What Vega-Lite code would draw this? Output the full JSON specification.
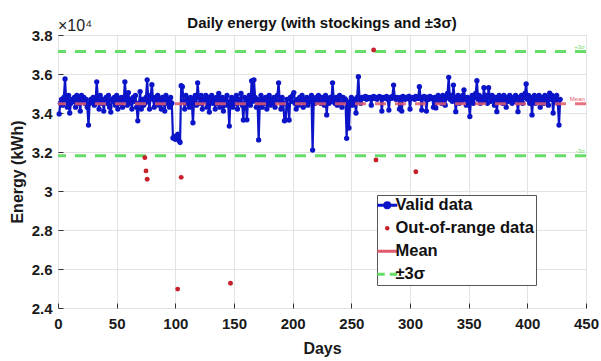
{
"$schema": "https://vega.github.io/schema/vega-lite/v6.json",
"width": 528, "height": 273,
"autosize": {"type": "none"},
"padding": {"left": 58, "top": 35, "right": 15, "bottom": 53},
"background": "white",
"title": {"text": "Daily energy (with stockings and ±3σ)", "font": "Liberation Sans", "fontSize": 15, "fontWeight": "bold", "color": "#111111", "offset": -13, "anchor": "middle"},
"config": {
 "view": {"stroke": "#a0a0a0", "strokeWidth": 1},
 "axis": {"labelFont": "Liberation Sans", "labelFontSize": 15, "labelFontWeight": "bold", "labelColor": "#1a1a1a", "titleFont": "Liberation Sans", "titleFontSize": 16, "titleFontWeight": "bold", "titleColor": "#1a1a1a", "gridColor": "#e3e3e3", "domain": false, "ticks": true, "tickSize": -5, "tickColor": "#333333", "labelOverlap": false}
},
"datasets": {
 "sig": [{"v": 37150}, {"v": 31810}],
 "mean": [{"v": 34480}],
 "labs": [{"t": "+3σ", "v": 37150, "s": "±3σ"}, {"t": "Mean", "v": 34480, "s": "Mean"}, {"t": "-3σ", "v": 31810, "s": "±3σ"}],
 "oor": [{"d":74,"e":31710},{"d":75,"e":31030},{"d":76,"e":30600},{"d":102,"e":24970},{"d":105,"e":30700},{"d":147,"e":25270},{"d":269,"e":37230},{"d":271,"e":31590},{"d":305,"e":30990}],
 "valid": [
{"d":1,"e":33950},{"d":2,"e":34500},{"d":3,"e":34700},{"d":4,"e":34400},{"d":5,"e":34800},{"d":6,"e":35750},{"d":7,"e":34600},{"d":8,"e":34300},{"d":9,"e":34900},{"d":10,"e":34000},
{"d":11,"e":34500},{"d":12,"e":34700},{"d":13,"e":34600},{"d":14,"e":34800},{"d":15,"e":34300},{"d":16,"e":34900},{"d":17,"e":34500},{"d":18,"e":34700},{"d":19,"e":34100},{"d":20,"e":34900},
{"d":21,"e":34600},{"d":22,"e":34800},{"d":23,"e":34500},{"d":24,"e":34700},{"d":25,"e":34300},{"d":26,"e":33380},{"d":27,"e":34500},{"d":28,"e":34700},{"d":29,"e":34600},{"d":30,"e":34800},
{"d":31,"e":34400},{"d":32,"e":34600},{"d":33,"e":35600},{"d":34,"e":34700},{"d":35,"e":34200},{"d":36,"e":34900},{"d":37,"e":34500},{"d":38,"e":34700},{"d":39,"e":34100},{"d":40,"e":34600},
{"d":41,"e":34800},{"d":42,"e":34500},{"d":43,"e":34900},{"d":44,"e":34300},{"d":45,"e":34050},{"d":46,"e":34700},{"d":47,"e":34600},{"d":48,"e":34800},{"d":49,"e":34400},{"d":50,"e":34900},
{"d":51,"e":34200},{"d":52,"e":34700},{"d":53,"e":34500},{"d":54,"e":34800},{"d":55,"e":34300},{"d":56,"e":34600},{"d":57,"e":35600},{"d":58,"e":34800},{"d":59,"e":34400},{"d":60,"e":35050},
{"d":61,"e":34500},{"d":62,"e":34700},{"d":63,"e":34200},{"d":64,"e":34800},{"d":65,"e":34600},{"d":66,"e":34900},{"d":67,"e":34300},{"d":68,"e":33600},{"d":69,"e":34500},{"d":70,"e":35100},
{"d":71,"e":34200},{"d":72,"e":34700},{"d":73,"e":34400},{"d":74,"e":34500},{"d":75,"e":34800},{"d":76,"e":35700},{"d":77,"e":34600},{"d":78,"e":34200},{"d":79,"e":34900},{"d":80,"e":35450},
{"d":81,"e":34700},{"d":82,"e":34300},{"d":83,"e":34800},{"d":84,"e":34500},{"d":85,"e":34900},{"d":86,"e":34400},{"d":87,"e":34700},{"d":88,"e":34200},{"d":89,"e":34800},{"d":90,"e":34600},
{"d":91,"e":34100},{"d":92,"e":34900},{"d":93,"e":34500},{"d":94,"e":34700},{"d":95,"e":34300},{"d":96,"e":34800},{"d":97,"e":34500},{"d":98,"e":32720},{"d":99,"e":32800},{"d":100,"e":32650},
{"d":101,"e":32750},{"d":102,"e":32900},{"d":103,"e":32600},{"d":104,"e":32500},{"d":105,"e":35400},{"d":106,"e":35350},{"d":107,"e":34600},{"d":108,"e":34200},{"d":109,"e":34900},{"d":110,"e":34500},
{"d":111,"e":34700},{"d":112,"e":34300},{"d":113,"e":34800},{"d":114,"e":34600},{"d":115,"e":33500},{"d":116,"e":34700},{"d":117,"e":34900},{"d":118,"e":34400},{"d":119,"e":35550},{"d":120,"e":34800},
{"d":121,"e":34500},{"d":122,"e":34900},{"d":123,"e":34200},{"d":124,"e":34700},{"d":125,"e":34600},{"d":126,"e":34900},{"d":127,"e":34300},{"d":128,"e":34800},{"d":129,"e":34050},{"d":130,"e":34600},
{"d":131,"e":34900},{"d":132,"e":34500},{"d":133,"e":34700},{"d":134,"e":34200},{"d":135,"e":34800},{"d":136,"e":34500},{"d":137,"e":35000},{"d":138,"e":34300},{"d":139,"e":34600},{"d":140,"e":34800},
{"d":141,"e":34100},{"d":142,"e":34700},{"d":143,"e":34400},{"d":144,"e":34900},{"d":145,"e":34500},{"d":146,"e":33330},{"d":147,"e":34600},{"d":148,"e":34800},{"d":149,"e":34300},{"d":150,"e":34700},
{"d":151,"e":34500},{"d":152,"e":34900},{"d":153,"e":34200},{"d":154,"e":34700},{"d":155,"e":34600},{"d":156,"e":35000},{"d":157,"e":34400},{"d":158,"e":33640},{"d":159,"e":34800},{"d":160,"e":34500},
{"d":161,"e":33650},{"d":162,"e":34700},{"d":163,"e":34900},{"d":164,"e":34400},{"d":165,"e":35650},{"d":166,"e":34600},{"d":167,"e":35700},{"d":168,"e":34800},{"d":169,"e":34300},{"d":170,"e":34700},
{"d":171,"e":32620},{"d":172,"e":34500},{"d":173,"e":34900},{"d":174,"e":34300},{"d":175,"e":34700},{"d":176,"e":34500},{"d":177,"e":34800},{"d":178,"e":34200},{"d":179,"e":34600},{"d":180,"e":34900},
{"d":181,"e":34400},{"d":182,"e":34700},{"d":183,"e":34500},{"d":184,"e":34800},{"d":185,"e":34300},{"d":186,"e":34700},{"d":187,"e":34900},{"d":188,"e":35550},{"d":189,"e":34600},{"d":190,"e":34200},
{"d":191,"e":34800},{"d":192,"e":34500},{"d":193,"e":33600},{"d":194,"e":33650},{"d":195,"e":34700},{"d":196,"e":34400},{"d":197,"e":33640},{"d":198,"e":34800},{"d":199,"e":34600},{"d":200,"e":34900},
{"d":201,"e":35050},{"d":202,"e":34500},{"d":203,"e":34200},{"d":204,"e":34700},{"d":205,"e":34400},{"d":206,"e":34800},{"d":207,"e":34600},{"d":208,"e":34900},{"d":209,"e":34300},{"d":210,"e":34700},
{"d":211,"e":34500},{"d":212,"e":34800},{"d":213,"e":34400},{"d":214,"e":34700},{"d":215,"e":34600},{"d":216,"e":34900},{"d":217,"e":32100},{"d":218,"e":34700},{"d":219,"e":34500},{"d":220,"e":34800},
{"d":221,"e":34600},{"d":222,"e":34900},{"d":223,"e":34700},{"d":224,"e":34500},{"d":225,"e":34800},{"d":226,"e":34600},{"d":227,"e":34400},{"d":228,"e":34900},{"d":229,"e":33900},{"d":230,"e":34700},
{"d":231,"e":34500},{"d":232,"e":34800},{"d":233,"e":34600},{"d":234,"e":35550},{"d":235,"e":34700},{"d":236,"e":34500},{"d":237,"e":34800},{"d":238,"e":34400},{"d":239,"e":34700},{"d":240,"e":34900},
{"d":241,"e":34500},{"d":242,"e":34300},{"d":243,"e":34800},{"d":244,"e":34600},{"d":245,"e":34700},{"d":246,"e":32700},{"d":247,"e":34500},{"d":248,"e":33230},{"d":249,"e":34600},{"d":250,"e":34800},
{"d":251,"e":34400},{"d":252,"e":34700},{"d":253,"e":34600},{"d":254,"e":34000},{"d":255,"e":34800},{"d":256,"e":35860},{"d":257,"e":34700},{"d":258,"e":34500},{"d":259,"e":34800},{"d":260,"e":34750},
{"d":261,"e":34800},{"d":262,"e":34850},{"d":263,"e":34700},{"d":264,"e":34800},{"d":265,"e":34750},{"d":266,"e":34800},{"d":267,"e":34400},{"d":268,"e":34800},{"d":269,"e":34850},{"d":270,"e":34750},
{"d":271,"e":34800},{"d":272,"e":34700},{"d":273,"e":34800},{"d":274,"e":34850},{"d":275,"e":34800},{"d":276,"e":34100},{"d":277,"e":34800},{"d":278,"e":34750},{"d":279,"e":34800},{"d":280,"e":34850},
{"d":281,"e":34700},{"d":282,"e":34150},{"d":283,"e":34800},{"d":284,"e":34750},{"d":285,"e":34850},{"d":286,"e":35430},{"d":287,"e":34800},{"d":288,"e":34700},{"d":289,"e":34800},{"d":290,"e":34750},
{"d":291,"e":34200},{"d":292,"e":34800},{"d":293,"e":34100},{"d":294,"e":34850},{"d":295,"e":34800},{"d":296,"e":34700},{"d":297,"e":34800},{"d":298,"e":34750},{"d":299,"e":34850},{"d":300,"e":34200},
{"d":301,"e":34800},{"d":302,"e":34750},{"d":303,"e":34800},{"d":304,"e":34700},{"d":305,"e":34850},{"d":306,"e":34800},{"d":307,"e":34750},{"d":308,"e":35350},{"d":309,"e":34800},{"d":310,"e":34150},
{"d":311,"e":34800},{"d":312,"e":34850},{"d":313,"e":34750},{"d":314,"e":34100},{"d":315,"e":34800},{"d":316,"e":34700},{"d":317,"e":34850},{"d":318,"e":34800},{"d":319,"e":34750},{"d":320,"e":34300},
{"d":321,"e":34800},{"d":322,"e":34260},{"d":323,"e":34700},{"d":324,"e":34900},{"d":325,"e":34600},{"d":326,"e":34800},{"d":327,"e":34500},{"d":328,"e":34900},{"d":329,"e":34700},{"d":330,"e":34400},
{"d":331,"e":34800},{"d":332,"e":35000},{"d":333,"e":35830},{"d":334,"e":34700},{"d":335,"e":34900},{"d":336,"e":34600},{"d":337,"e":35430},{"d":338,"e":34800},{"d":339,"e":34070},{"d":340,"e":34700},
{"d":341,"e":34900},{"d":342,"e":34500},{"d":343,"e":34800},{"d":344,"e":34600},{"d":345,"e":34900},{"d":346,"e":35180},{"d":347,"e":34700},{"d":348,"e":34400},{"d":349,"e":34800},{"d":350,"e":34600},
{"d":351,"e":33820},{"d":352,"e":34700},{"d":353,"e":34900},{"d":354,"e":34500},{"d":355,"e":34800},{"d":356,"e":35000},{"d":357,"e":35660},{"d":358,"e":34700},{"d":359,"e":34900},{"d":360,"e":34500},
{"d":361,"e":34800},{"d":362,"e":34600},{"d":363,"e":35300},{"d":364,"e":34700},{"d":365,"e":34900},{"d":366,"e":34500},{"d":367,"e":35300},{"d":368,"e":34800},{"d":369,"e":34600},{"d":370,"e":34900},
{"d":371,"e":34700},{"d":372,"e":34400},{"d":373,"e":34800},{"d":374,"e":34070},{"d":375,"e":34700},{"d":376,"e":34900},{"d":377,"e":34600},{"d":378,"e":34800},{"d":379,"e":34500},{"d":380,"e":34900},
{"d":381,"e":34700},{"d":382,"e":34300},{"d":383,"e":34800},{"d":384,"e":34600},{"d":385,"e":34900},{"d":386,"e":34700},{"d":387,"e":34500},{"d":388,"e":34800},{"d":389,"e":34600},{"d":390,"e":34900},
{"d":391,"e":34700},{"d":392,"e":34070},{"d":393,"e":34800},{"d":394,"e":34600},{"d":395,"e":34900},{"d":396,"e":34500},{"d":397,"e":34800},{"d":398,"e":35000},{"d":399,"e":35490},{"d":400,"e":34700},
{"d":401,"e":34900},{"d":402,"e":34500},{"d":403,"e":34800},{"d":404,"e":33900},{"d":405,"e":34700},{"d":406,"e":34900},{"d":407,"e":34500},{"d":408,"e":34800},{"d":409,"e":34600},{"d":410,"e":34900},
{"d":411,"e":34300},{"d":412,"e":34700},{"d":413,"e":34800},{"d":414,"e":34500},{"d":415,"e":34900},{"d":416,"e":34600},{"d":417,"e":34800},{"d":418,"e":34400},{"d":419,"e":35020},{"d":420,"e":34700},
{"d":421,"e":34900},{"d":422,"e":34000},{"d":423,"e":34800},{"d":424,"e":34600},{"d":425,"e":34900},{"d":426,"e":34500},{"d":427,"e":33380},{"d":428,"e":34700}
 ]
},
"layer": [
 {"data": {"name": "sig"},
  "mark": {"type": "rule", "strokeWidth": 3, "strokeDash": [11, 9]},
  "encoding": {
   "y": {"field": "v", "type": "quantitative", "scale": {"domain": [24000, 38000], "nice": false, "zero": false},
         "axis": {"title": "Energy (kWh)", "values": [24000, 26000, 28000, 30000, 32000, 34000, 36000, 38000], "tickCount": 10, "labelExpr": "format(datum.value/10000, '~g')", "labelOverlap": false, "labelBound": false, "labelPadding": 11, "titlePadding": 6, "grid": true}},
   "color": {"datum": "±3σ", "type": "nominal", "title": null,
     "scale": {"domain": ["Valid data", "Out-of-range data", "Mean", "±3σ"], "range": ["#0c14c8", "#c8202a", "#e05a6c", "#66dd66"]},
     "legend": {"title": null, "orient": "none", "legendX": 319, "legendY": 160,
       "labelFont": "Liberation Sans", "labelFontSize": 16.5, "labelFontWeight": "bold", "labelColor": "#111111", "labelLimit": 200,
       "fillColor": "white", "strokeColor": "#555555", "padding": 2, "rowPadding": 6, "symbolSize": 400, "labelOffset": 0, "symbolStrokeWidth": 3,
       "encode": {"symbols": {"update": {
         "shape": {"signal": "datum.value === 'Valid data' ? 'M-1,0H1M-0.25,0A0.25,0.25 0 1,0 0.25,0A0.25,0.25 0 1,0 -0.25,0Z' : datum.value === 'Out-of-range data' ? 'circle' : datum.value === 'Mean' ? 'stroke' : 'M-1,0H-0.25M0.25,0H1'"},
         "size": {"signal": "datum.value === 'Out-of-range data' ? 20 : 400"},
         "fill": {"signal": "datum.value === 'Valid data' ? '#0c14c8' : datum.value === 'Out-of-range data' ? '#c8202a' : 'transparent'"},
         "stroke": {"signal": "datum.value === 'Valid data' ? '#0c14c8' : datum.value === 'Mean' ? '#e58a8e' : datum.value === '±3σ' ? '#66dd66' : 'transparent'"},
         "strokeWidth": {"signal": "datum.value === 'Out-of-range data' ? 0 : 3"},
         "opacity": {"value": 1}
       }}}
     }}
  }},
 {"data": {"name": "valid"},
  "mark": {"type": "line", "strokeWidth": 2.2, "point": {"filled": true, "size": 28}},
  "encoding": {
   "x": {"field": "d", "type": "quantitative", "scale": {"domain": [0, 450], "nice": false, "zero": false},
         "axis": {"title": "Days", "values": [0, 50, 100, 150, 200, 250, 300, 350, 400, 450], "tickCount": 12, "labelPadding": 13, "titlePadding": 9, "grid": true, "labelFlush": false}},
   "y": {"field": "e", "type": "quantitative"},
   "color": {"datum": "Valid data", "type": "nominal", "title": null}
  }},
 {"data": {"name": "mean"},
  "mark": {"type": "rule", "strokeWidth": 3, "strokeDash": [11, 9], "opacity": 0.85},
  "encoding": {
   "y": {"field": "v", "type": "quantitative"},
   "color": {"datum": "Mean", "type": "nominal", "title": null}
  }},
 {"data": {"name": "oor"},
  "mark": {"type": "point", "filled": true, "size": 24, "opacity": 1},
  "encoding": {
   "x": {"field": "d", "type": "quantitative"},
   "y": {"field": "e", "type": "quantitative"},
   "color": {"datum": "Out-of-range data", "type": "nominal", "title": null}
  }},
 {"data": {"name": "labs"},
  "mark": {"type": "text", "align": "right", "baseline": "bottom", "dy": -2, "fontSize": 6, "font": "Liberation Sans"},
  "encoding": {
   "x": {"datum": 449, "type": "quantitative"},
   "y": {"field": "v", "type": "quantitative"},
   "text": {"field": "t"},
   "color": {"field": "s", "type": "nominal", "title": null}
  }},
 {"data": {"values": [{"t": "×10⁴"}]},
  "mark": {"type": "text", "align": "left", "baseline": "alphabetic", "dy": -4, "fontSize": 16, "font": "Liberation Sans", "color": "#222222"},
  "encoding": {
   "x": {"datum": 0, "type": "quantitative"},
   "y": {"datum": 38000, "type": "quantitative"},
   "text": {"field": "t"}
  }}
]
}
